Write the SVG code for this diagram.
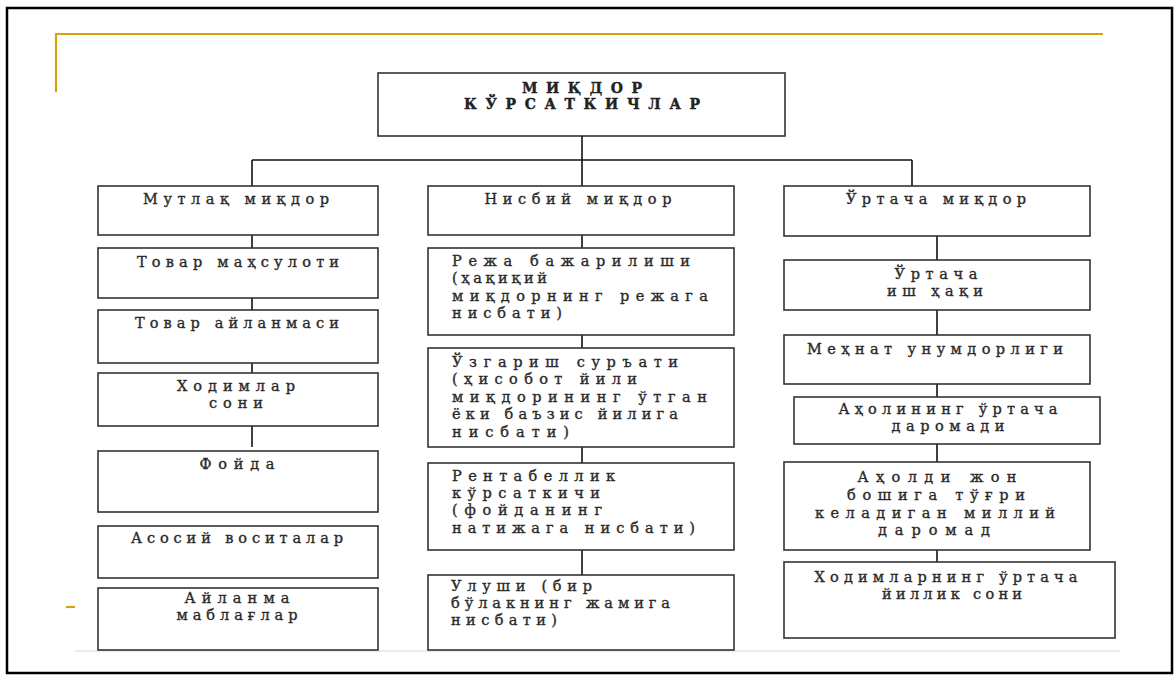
<svg xmlns="http://www.w3.org/2000/svg" width="1175" height="675" viewBox="0 0 1175 675">
<style>
.box{fill:#fff;stroke:#333;stroke-width:1.6}
.con line{stroke:#111;stroke-width:1.6}
text{font-family:"DejaVu Serif","Liberation Serif",serif;font-size:14.5px;fill:#2a2a2a;stroke:#2a2a2a;stroke-width:0.35}
.c{text-anchor:middle}
.t{font-weight:bold;font-size:14px;fill:#222;stroke:#222;stroke-width:0.4}
.gold{stroke:#D4A20F;stroke-width:2.2;fill:none}
</style>
<rect x="0" y="0" width="1175" height="675" fill="#fff"/>
<rect x="7" y="8" width="1165" height="665" fill="none" stroke="#000" stroke-width="2.5"/>
<path class="gold" d="M56,92 V34 H1103"/>
<line class="gold" x1="66" y1="607" x2="75" y2="607"/>
<line x1="75" y1="651" x2="1120" y2="651" stroke="#e4e4e4" stroke-width="1.5"/>

<g id="title">
<rect class="box" x="378" y="73" width="407" height="63"/>
<text class="c t" x="582" y="93" textLength="120" lengthAdjust="spacing">МИҚДОР</text>
<text class="c t" x="582" y="109" textLength="236" lengthAdjust="spacing">КЎРСАТКИЧЛАР</text>
</g>

<g class="con" id="connectors">
<line x1="582" y1="136" x2="582" y2="186"/>
<line x1="252" y1="160" x2="912" y2="160" stroke="#777"/>
<line x1="252" y1="160" x2="252" y2="186"/>
<line x1="912" y1="160" x2="912" y2="186"/>
<line x1="252" y1="235" x2="252" y2="248"/>
<line x1="252" y1="298" x2="252" y2="310"/>
<line x1="252" y1="361" x2="252" y2="373"/>
<line x1="252" y1="422" x2="252" y2="447"/>
<line x1="252" y1="526" x2="252" y2="535"/>
<line x1="582" y1="235" x2="582" y2="248"/>
<line x1="582" y1="335" x2="582" y2="348"/>
<line x1="582" y1="447" x2="582" y2="463"/>
<line x1="582" y1="550" x2="582" y2="575"/>
<line x1="937" y1="236" x2="937" y2="260"/>
<line x1="937" y1="297" x2="937" y2="335"/>
<line x1="937" y1="384" x2="937" y2="398"/>
<line x1="937" y1="444" x2="937" y2="462"/>
<line x1="937" y1="550" x2="937" y2="562"/>
</g>

<g id="mutlaq">
<rect class="box" x="98" y="186" width="280" height="49"/>
<text class="c" x="236" y="204" textLength="186" lengthAdjust="spacing">Мутлақ миқдор</text>
</g>
<g id="tovar-mahsuloti">
<rect class="box" x="98" y="248" width="280" height="50"/>
<text class="c" x="238" y="267" textLength="202" lengthAdjust="spacing">Товар маҳсулоти</text>
</g>
<g id="tovar-aylanmasi">
<rect class="box" x="98" y="310" width="280" height="53"/>
<text class="c" x="237" y="328" textLength="204" lengthAdjust="spacing">Товар айланмаси</text>
</g>
<g id="hodimlar">
<rect class="box" x="98" y="373" width="280" height="53"/>
<text class="c" x="236" y="391" textLength="118" lengthAdjust="spacing">Ходимлар</text>
<text class="c" x="236" y="408" textLength="54" lengthAdjust="spacing">сони</text>
</g>
<g id="foyda">
<rect class="box" x="98" y="451" width="280" height="61"/>
<text class="c" x="237" y="469" textLength="75" lengthAdjust="spacing">Фойда</text>
</g>
<g id="asosiy">
<rect class="box" x="98" y="526" width="280" height="52"/>
<text class="c" x="237" y="543" textLength="212" lengthAdjust="spacing">Асосий воситалар</text>
</g>
<g id="aylanma">
<rect class="box" x="98" y="588" width="280" height="62"/>
<text class="c" x="237" y="603" textLength="105" lengthAdjust="spacing">Айланма</text>
<text class="c" x="237" y="620" textLength="121" lengthAdjust="spacing">маблағлар</text>
</g>

<g id="nisbiy">
<rect class="box" x="428" y="186" width="306" height="49"/>
<text class="c" x="578" y="204" textLength="187" lengthAdjust="spacing">Нисбий миқдор</text>
</g>
<g id="reja">
<rect class="box" x="428" y="248" width="306" height="87"/>
<text x="452" y="266" textLength="238" lengthAdjust="spacing">Режа бажарилиши</text>
<text x="452" y="283" textLength="95" lengthAdjust="spacing">(ҳақиқий</text>
<text x="452" y="301" textLength="256" lengthAdjust="spacing">миқдорнинг режага</text>
<text x="452" y="318" textLength="110" lengthAdjust="spacing">нисбати)</text>
</g>
<g id="uzgarish">
<rect class="box" x="428" y="348" width="306" height="99"/>
<text x="452" y="367" textLength="226" lengthAdjust="spacing">Ўзгариш суръати</text>
<text x="452" y="384" textLength="185" lengthAdjust="spacing">(ҳисобот йили</text>
<text x="452" y="402" textLength="255" lengthAdjust="spacing">миқдорининг ўтган</text>
<text x="452" y="419" textLength="226" lengthAdjust="spacing">ёки баъзис йилига</text>
<text x="452" y="437" textLength="117" lengthAdjust="spacing">нисбати)</text>
</g>
<g id="rentabellik">
<rect class="box" x="428" y="463" width="306" height="87"/>
<text x="452" y="481" textLength="163" lengthAdjust="spacing">Рентабеллик</text>
<text x="452" y="498" textLength="148" lengthAdjust="spacing">кўрсаткичи</text>
<text x="452" y="515" textLength="150" lengthAdjust="spacing">(фойданинг</text>
<text x="452" y="533" textLength="243" lengthAdjust="spacing">натижага нисбати)</text>
</g>
<g id="ulushi">
<rect class="box" x="428" y="575" width="306" height="75"/>
<text x="451" y="591" textLength="141" lengthAdjust="spacing">Улуши (бир</text>
<text x="451" y="608" textLength="219" lengthAdjust="spacing">бўлакнинг жамига</text>
<text x="451" y="625" textLength="106" lengthAdjust="spacing">нисбати)</text>
</g>

<g id="urtacha">
<rect class="box" x="784" y="186" width="306" height="50"/>
<text class="c" x="936" y="204" textLength="180" lengthAdjust="spacing">Ўртача миқдор</text>
</g>
<g id="ish-haqi">
<rect class="box" x="784" y="260" width="306" height="50"/>
<text class="c" x="936" y="279" textLength="83" lengthAdjust="spacing">Ўртача</text>
<text class="c" x="935" y="296" textLength="96" lengthAdjust="spacing">иш ҳақи</text>
</g>
<g id="mehnat">
<rect class="box" x="784" y="335" width="306" height="49"/>
<text class="c" x="935" y="354" textLength="256" lengthAdjust="spacing">Меҳнат унумдорлиги</text>
</g>
<g id="aholining">
<rect class="box" x="794" y="397" width="306" height="47"/>
<text class="c" x="948" y="414" textLength="219" lengthAdjust="spacing">Аҳолининг ўртача</text>
<text class="c" x="948" y="431" textLength="113" lengthAdjust="spacing">даромади</text>
</g>
<g id="aholi-jon">
<rect class="box" x="784" y="462" width="306" height="88"/>
<text class="c" x="937" y="482" textLength="159" lengthAdjust="spacing">Аҳолди жон</text>
<text class="c" x="936" y="500" textLength="178" lengthAdjust="spacing">бошига тўғри</text>
<text class="c" x="935" y="518" textLength="240" lengthAdjust="spacing">келадиган миллий</text>
<text class="c" x="934" y="535" textLength="112" lengthAdjust="spacing">даромад</text>
</g>
<g id="hodimlarning">
<rect class="box" x="784" y="562" width="331" height="76"/>
<text class="c" x="946" y="582" textLength="263" lengthAdjust="spacing">Ходимларнинг ўртача</text>
<text class="c" x="952" y="599" textLength="140" lengthAdjust="spacing">йиллик сони</text>
</g>
</svg>
